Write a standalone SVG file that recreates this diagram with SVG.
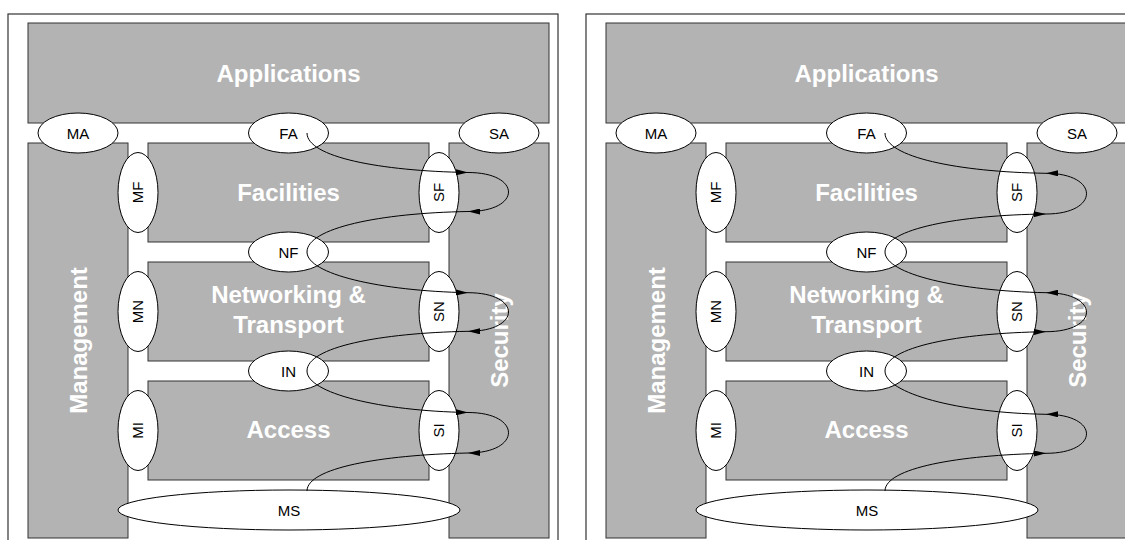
<svg xmlns="http://www.w3.org/2000/svg" width="1125" height="540" viewBox="0 0 1125 540">
<style>
.frame{fill:#fff;stroke:#333;stroke-width:1.2}
.box{fill:#b3b3b3;stroke:#333;stroke-width:1}
.big{font-family:"Liberation Sans",Arial,sans-serif;font-weight:bold;font-size:24px;fill:#fff;text-anchor:middle}
.ell{fill:#fff;stroke:#000;stroke-width:1}
.lbl{font-family:"Liberation Sans",Arial,sans-serif;font-size:15px;fill:#000;text-anchor:middle}
.con{fill:none;stroke:#000;stroke-width:1}
</style>
<defs>
<marker id="arr" markerUnits="userSpaceOnUse" markerWidth="12" markerHeight="6" refX="12" refY="3" orient="auto-start-reverse">
<path d="M0,0 L12,3 L0,6 z" fill="#000"/>
</marker>
</defs>
<rect width="1125" height="540" fill="#fff"/>

<!-- LEFT PANEL -->
<g id="left-panel">
<rect class="frame" x="8" y="14" width="550" height="560"/>
<g id="L-applications"><rect class="box" x="28" y="23" width="521" height="100"/><text class="big" x="288.5" y="81.5">Applications</text></g>
<g id="L-management"><rect class="box" x="28" y="143" width="100" height="395"/><text class="big" transform="translate(78,340.5) rotate(-90)" y="8.5">Management</text></g>
<g id="L-security"><rect class="box" x="449" y="143" width="100" height="395"/><text class="big" transform="translate(499,340.5) rotate(-90)" y="8.5">Security</text></g>
<g id="L-facilities"><rect class="box" x="148" y="143" width="281" height="99"/><text class="big" x="288.5" y="200.5">Facilities</text></g>
<g id="L-networking"><rect class="box" x="148" y="262" width="281" height="99"/><text class="big" x="288.5" y="303">Networking &amp;</text><text class="big" x="288.5" y="333">Transport</text></g>
<g id="L-access"><rect class="box" x="148" y="381" width="281" height="99"/><text class="big" x="288.5" y="438">Access</text></g>

<g id="L-MA"><ellipse class="ell" cx="78" cy="133" rx="40" ry="20"/><text class="lbl" x="78" y="138.5">MA</text></g>
<g id="L-FA"><ellipse class="ell" cx="288.5" cy="133" rx="40" ry="20"/><text class="lbl" x="288.5" y="138.5">FA</text></g>
<g id="L-SA"><ellipse class="ell" cx="499" cy="133" rx="40" ry="20"/><text class="lbl" x="499" y="138.5">SA</text></g>
<g id="L-NF"><ellipse class="ell" cx="288.5" cy="252" rx="40" ry="20"/><text class="lbl" x="288.5" y="257.5">NF</text></g>
<g id="L-IN"><ellipse class="ell" cx="288.5" cy="371" rx="40" ry="20"/><text class="lbl" x="288.5" y="376.5">IN</text></g>
<g id="L-MF"><ellipse class="ell" cx="138" cy="192.5" rx="20" ry="40"/><text class="lbl" transform="translate(138,192.5) rotate(-90)" y="5.4">MF</text></g>
<g id="L-MN"><ellipse class="ell" cx="138" cy="311.5" rx="20" ry="40"/><text class="lbl" transform="translate(138,311.5) rotate(-90)" y="5.4">MN</text></g>
<g id="L-MI"><ellipse class="ell" cx="138" cy="430.5" rx="20" ry="40"/><text class="lbl" transform="translate(138,430.5) rotate(-90)" y="5.4">MI</text></g>
<g id="L-SF"><ellipse class="ell" cx="439" cy="192.5" rx="20" ry="40"/><text class="lbl" transform="translate(439,192.5) rotate(-90)" y="5.4">SF</text></g>
<g id="L-SN"><ellipse class="ell" cx="439" cy="311.5" rx="20" ry="40"/><text class="lbl" transform="translate(439,311.5) rotate(-90)" y="5.4">SN</text></g>
<g id="L-SI"><ellipse class="ell" cx="439" cy="430.5" rx="20" ry="40"/><text class="lbl" transform="translate(439,430.5) rotate(-90)" y="5.4">SI</text></g>
<g id="L-MS"><ellipse class="ell" cx="289" cy="510" rx="171" ry="20"/><text class="lbl" x="289" y="515.5">MS</text></g>

<g id="L-connectors">
<path class="con" marker-end="url(#arr)" d="M307,133 C307,157 380,171 468,172.5"/>
<path class="con" marker-end="url(#arr)" d="M468,172.5 C522,172.5 522,211.5 468,211.5"/>
<path class="con" marker-end="url(#arr)" d="M468,211.5 C380,213 307,228 307,252 C307,274 380,291 468,292.7"/>
<path class="con" marker-end="url(#arr)" d="M468,292.7 C522,292.7 522,331.3 468,331.3"/>
<path class="con" marker-end="url(#arr)" d="M468,331.3 C380,333 307,347 307,371 C307,393 380,411 468,412.5"/>
<path class="con" marker-end="url(#arr)" d="M468,412.5 C522,412.5 522,453 468,453"/>
<path class="con" d="M468,453 C380,455 307,468 307,491"/>
</g>
</g>

<!-- RIGHT PANEL -->
<g id="right-panel" transform="translate(578,0)">
<rect class="frame" x="8" y="14" width="550" height="560"/>
<g id="R-applications"><rect class="box" x="28" y="23" width="521" height="100"/><text class="big" x="288.5" y="81.5">Applications</text></g>
<g id="R-management"><rect class="box" x="28" y="143" width="100" height="395"/><text class="big" transform="translate(78,340.5) rotate(-90)" y="8.5">Management</text></g>
<g id="R-security"><rect class="box" x="449" y="143" width="100" height="395"/><text class="big" transform="translate(499,340.5) rotate(-90)" y="8.5">Security</text></g>
<g id="R-facilities"><rect class="box" x="148" y="143" width="281" height="99"/><text class="big" x="288.5" y="200.5">Facilities</text></g>
<g id="R-networking"><rect class="box" x="148" y="262" width="281" height="99"/><text class="big" x="288.5" y="303">Networking &amp;</text><text class="big" x="288.5" y="333">Transport</text></g>
<g id="R-access"><rect class="box" x="148" y="381" width="281" height="99"/><text class="big" x="288.5" y="438">Access</text></g>

<g id="R-MA"><ellipse class="ell" cx="78" cy="133" rx="40" ry="20"/><text class="lbl" x="78" y="138.5">MA</text></g>
<g id="R-FA"><ellipse class="ell" cx="288.5" cy="133" rx="40" ry="20"/><text class="lbl" x="288.5" y="138.5">FA</text></g>
<g id="R-SA"><ellipse class="ell" cx="499" cy="133" rx="40" ry="20"/><text class="lbl" x="499" y="138.5">SA</text></g>
<g id="R-NF"><ellipse class="ell" cx="288.5" cy="252" rx="40" ry="20"/><text class="lbl" x="288.5" y="257.5">NF</text></g>
<g id="R-IN"><ellipse class="ell" cx="288.5" cy="371" rx="40" ry="20"/><text class="lbl" x="288.5" y="376.5">IN</text></g>
<g id="R-MF"><ellipse class="ell" cx="138" cy="192.5" rx="20" ry="40"/><text class="lbl" transform="translate(138,192.5) rotate(-90)" y="5.4">MF</text></g>
<g id="R-MN"><ellipse class="ell" cx="138" cy="311.5" rx="20" ry="40"/><text class="lbl" transform="translate(138,311.5) rotate(-90)" y="5.4">MN</text></g>
<g id="R-MI"><ellipse class="ell" cx="138" cy="430.5" rx="20" ry="40"/><text class="lbl" transform="translate(138,430.5) rotate(-90)" y="5.4">MI</text></g>
<g id="R-SF"><ellipse class="ell" cx="439" cy="192.5" rx="20" ry="40"/><text class="lbl" transform="translate(439,192.5) rotate(-90)" y="5.4">SF</text></g>
<g id="R-SN"><ellipse class="ell" cx="439" cy="311.5" rx="20" ry="40"/><text class="lbl" transform="translate(439,311.5) rotate(-90)" y="5.4">SN</text></g>
<g id="R-SI"><ellipse class="ell" cx="439" cy="430.5" rx="20" ry="40"/><text class="lbl" transform="translate(439,430.5) rotate(-90)" y="5.4">SI</text></g>
<g id="R-MS"><ellipse class="ell" cx="289" cy="510" rx="171" ry="20"/><text class="lbl" x="289" y="515.5">MS</text></g>

<g id="R-connectors">
<path class="con" d="M307,133 C307,157 380,172 468,173.3"/>
<path class="con" marker-start="url(#arr)" d="M468,173.3 C522,173.3 522,214 468,214"/>
<path class="con" marker-start="url(#arr)" d="M468,214 C380,215 307,229 307,252 C307,274 380,291 468,292.7"/>
<path class="con" marker-start="url(#arr)" d="M468,292.7 C522,292.7 522,331.7 468,331.7"/>
<path class="con" marker-start="url(#arr)" d="M468,331.7 C380,333 307,347 307,371 C307,393 380,413 468,414.3"/>
<path class="con" marker-start="url(#arr)" d="M468,414.3 C522,414.3 522,453.3 468,453.3"/>
<path class="con" marker-start="url(#arr)" d="M468,453.3 C380,455 307,468 307,491"/>
</g>
</g>
</svg>
